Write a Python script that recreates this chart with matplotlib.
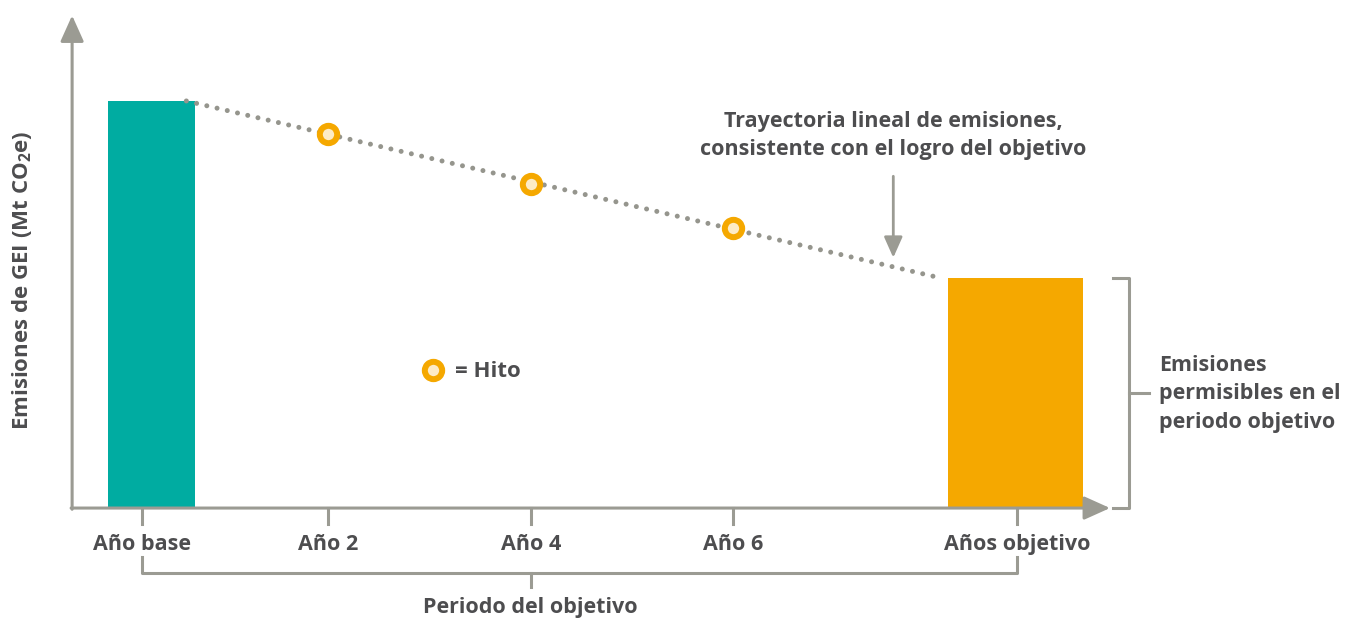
import matplotlib
matplotlib.use('Agg')
import matplotlib.pyplot as plt

# data (x in years from base, y in relative emissions, base = 100)
periods = ["Año base", "Año 2", "Año 4", "Año 6", "Años objetivo"]
period_years = [0.16, 2, 4, 6, 8.8]
bar_values = [100, 56.5]                 # base year, target years
milestone_years = [2, 4, 6]
milestone_values = [91.8, 79.6, 68.8]
trajectory_years = [0.6, 8.05]
trajectory_values = [100, 56.5]

TEAL = '#00aca1'
ORANGE = '#f5a800'
GREY = '#9b9b93'
DOT = '#95958d'
TEXT = '#4d4d4f'

plt.rcParams['font.family'] = ['Open Sans', 'DejaVu Sans']
plt.rcParams['mathtext.fontset'] = 'custom'
plt.rcParams['mathtext.rm'] = 'Open Sans:bold'

fig = plt.figure(figsize=(13.45, 6.2), dpi=100)
ax = fig.add_axes([0, 0, 1, 1])
ax.set_xlim(-1.24, 12.04)
ax.set_ylim(-27.5, 124.8)
ax.axis('off')

# bars
ax.bar([0.26, 8.79], bar_values, width=[0.86, 1.33], color=[TEAL, ORANGE], zorder=2)

# trajectory + milestones
ax.plot(trajectory_years, trajectory_values, color=DOT, lw=3.6,
        linestyle=(0, (0.001, 2.1)), dash_capstyle='round', zorder=3)
ax.plot(milestone_years, milestone_values, 'o', ms=12.5, mew=4.3, mec=ORANGE,
        mfc='#fdebc6', zorder=4)

# axes with arrows
x0 = -0.528
arrow = dict(arrowstyle='-|>,head_length=1.0,head_width=0.45',
             color=GREY, lw=2.2, mutation_scale=16, shrinkA=0, shrinkB=0)
ax.annotate('', xy=(x0, 121.0), xytext=(x0, -0.3), arrowprops=arrow)
ax.annotate('', xy=(9.72, 0), xytext=(x0 - 0.01, 0), arrowprops=arrow)

# ticks and labels
for xv, lab in zip(period_years, periods):
    ax.plot([xv, xv], [0, -4.0], color=GREY, lw=2.2)
    ax.text(xv, -8.9, lab, ha='center', va='center', fontsize=15.5,
            fontweight='bold', color=TEXT)

# bottom bracket
yb = -16
ax.plot([period_years[0], period_years[0], period_years[-1], period_years[-1]],
        [yb + 4, yb, yb, yb + 4], color=GREY, lw=2.2)
xm = period_years[2]
ax.plot([xm, xm], [yb, yb - 3.3], color=GREY, lw=2.2)
ax.text(xm, -24.4, 'Periodo del objetivo', ha='center', va='center', fontsize=15.5,
        fontweight='bold', color=TEXT)

# right bracket
xr = 9.91
ax.plot([xr - 0.16, xr, xr, xr - 0.16], [bar_values[1], bar_values[1], 0, 0],
        color=GREY, lw=2.2)
ax.plot([xr, xr + 0.19], [bar_values[1] / 2, bar_values[1] / 2], color=GREY, lw=2.2)
ax.text(10.2, bar_values[1] / 2 - 0.2, 'Emisiones\npermisibles en el\nperiodo objetivo',
        ha='left', va='center', fontsize=15.5, fontweight='bold', color=TEXT,
        linespacing=1.45)

# trajectory annotation
ax.text(7.58, 91.6, 'Trayectoria lineal de emisiones,\nconsistente con el logro del objetivo',
        ha='center', va='center', fontsize=15.5, fontweight='bold', color=TEXT,
        linespacing=1.45)
ax.annotate('', xy=(7.58, 61.5), xytext=(7.58, 81.5),
            arrowprops=dict(arrowstyle='-|>,head_length=0.9,head_width=0.4',
                            color=GREY, lw=2.0, mutation_scale=14, shrinkA=0, shrinkB=0))

# legend
ax.plot([3.04], [34.0], 'o', ms=12.5, mew=4.3, mec=ORANGE, mfc='#fdebc6')
ax.text(3.25, 33.6, '= Hito', ha='left', va='center', fontsize=16,
        fontweight='bold', color=TEXT)

# y label
ax.text(-1.02, 56, 'Emisiones de GEI (Mt CO$_\\mathregular{2}$e)', rotation=90,
        ha='center', va='center', fontsize=16, fontweight='bold', color=TEXT)

fig.savefig('out.png', dpi=100)
